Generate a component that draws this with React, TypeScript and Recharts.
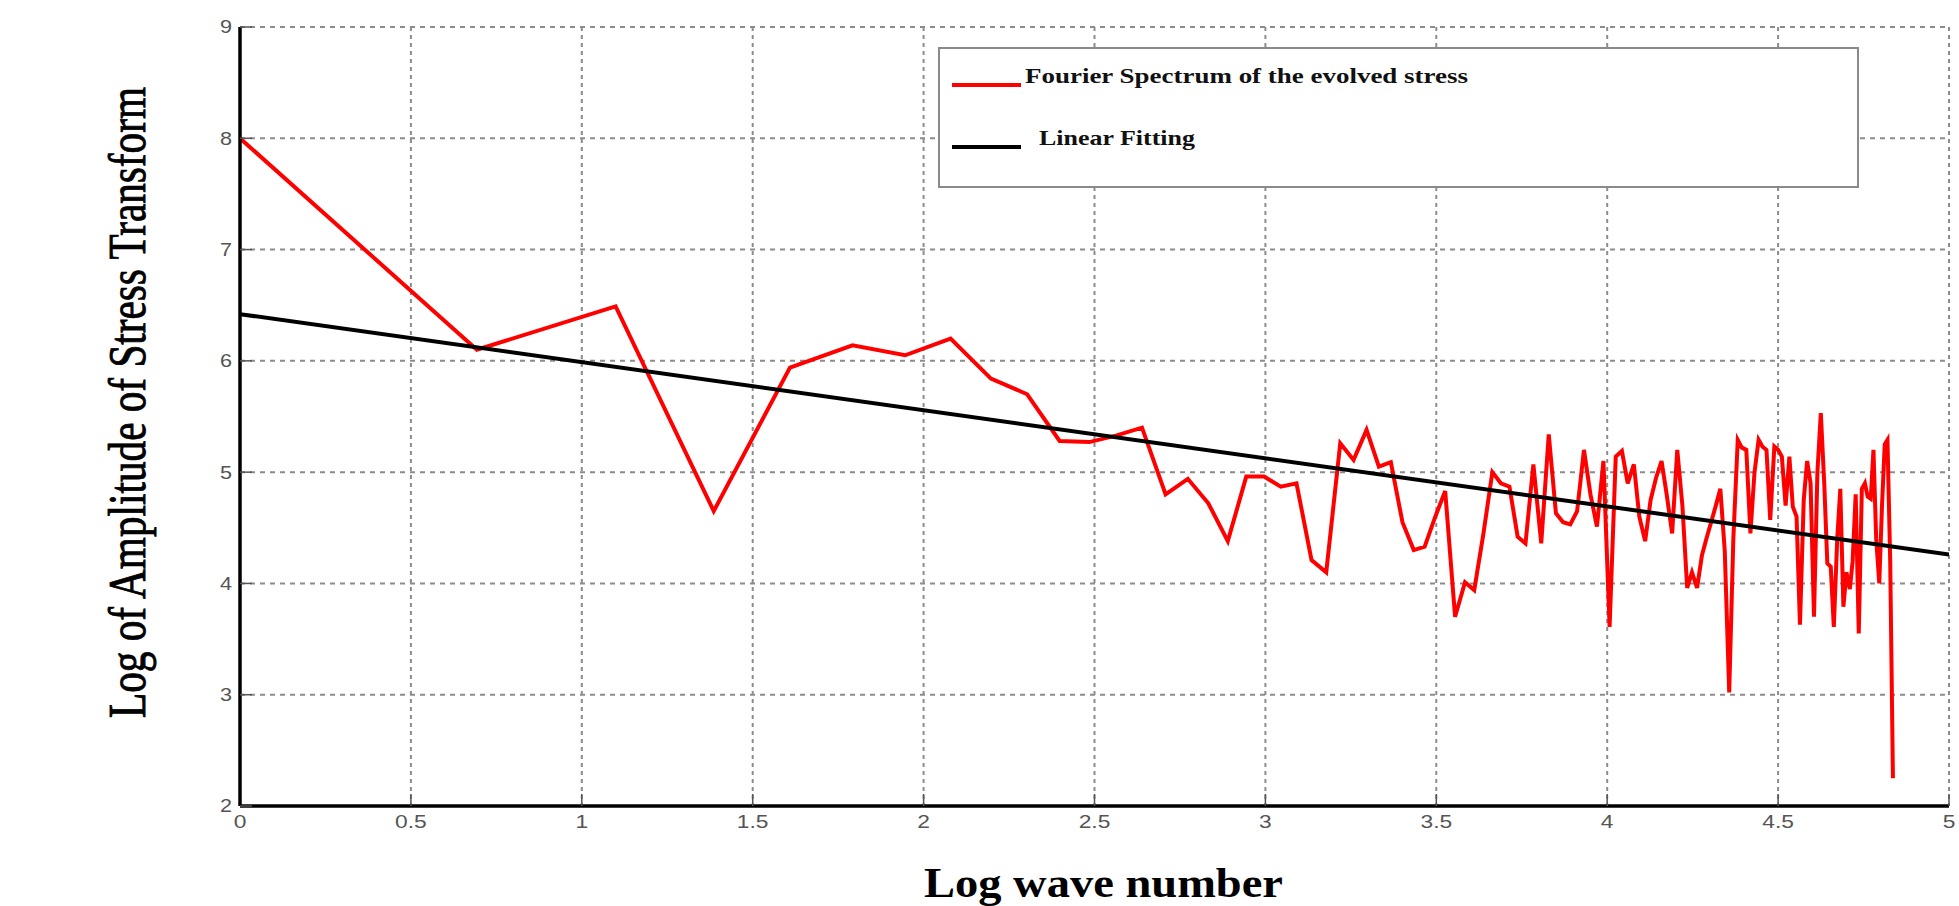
import React from "react";
import { LineChart, Line, XAxis, YAxis, CartesianGrid, Legend } from "recharts";

// log of wave number k = 1..126
const logWave = [
  0, 0.693, 1.099, 1.386, 1.609, 1.792, 1.946, 2.079, 2.197, 2.303,
  2.398, 2.485, 2.565, 2.639, 2.708, 2.773, 2.833, 2.89, 2.944, 2.996,
  3.045, 3.091, 3.135, 3.178, 3.219, 3.258, 3.296, 3.332, 3.367, 3.401,
  3.434, 3.466, 3.497, 3.526, 3.555, 3.584, 3.611, 3.638, 3.664, 3.689,
  3.714, 3.738, 3.761, 3.784, 3.807, 3.829, 3.85, 3.871, 3.892, 3.912,
  3.932, 3.951, 3.97, 3.989, 4.007, 4.025, 4.043, 4.06, 4.078, 4.094,
  4.111, 4.127, 4.143, 4.159, 4.174, 4.19, 4.205, 4.22, 4.234, 4.248,
  4.263, 4.277, 4.29, 4.304, 4.317, 4.331, 4.344, 4.357, 4.369, 4.382,
  4.394, 4.407, 4.419, 4.431, 4.443, 4.454, 4.466, 4.477, 4.489, 4.5,
  4.511, 4.522, 4.533, 4.543, 4.554, 4.564, 4.575, 4.585, 4.595, 4.605,
  4.615, 4.625, 4.635, 4.644, 4.654, 4.663, 4.673, 4.682, 4.691, 4.7,
  4.71, 4.718, 4.727, 4.736, 4.745, 4.754, 4.762, 4.771, 4.779, 4.787,
  4.796, 4.804, 4.812, 4.82, 4.828, 4.836,
];

// log of amplitude of the stress transform
const spectrum = [
  8.0, 6.1, 6.49, 4.65, 5.94, 6.14, 6.05, 6.2, 5.84, 5.7,
  5.28, 5.27, 5.33, 5.4, 4.8, 4.94, 4.72, 4.38, 4.96, 4.96,
  4.87, 4.9, 4.21, 4.1, 5.26, 5.11, 5.38, 5.05, 5.09, 4.55,
  4.3, 4.33, 4.6, 4.83, 3.7, 4.01, 3.94, 4.45, 5.0, 4.9,
  4.87, 4.42, 4.36, 5.07, 4.36, 5.34, 4.63, 4.55, 4.53, 4.65,
  5.2, 4.8, 4.51, 5.1, 3.61, 5.14, 5.19, 4.9, 5.07, 4.6,
  4.38, 4.75, 4.95, 5.1, 4.8, 4.45, 5.2, 4.7, 3.96, 4.1,
  3.96, 4.25, 4.4, 4.55, 4.69, 4.85, 4.29, 3.02, 4.4, 5.29,
  5.22, 5.2, 4.45, 5.0, 5.29, 5.23, 5.2, 4.57, 5.23, 5.2,
  5.14, 4.7, 5.14, 4.69, 4.6, 3.63, 4.75, 5.1, 4.9, 3.7,
  5.0, 5.53, 4.9, 4.18, 4.15, 3.61, 4.4, 4.85, 3.79, 4.1,
  3.95, 4.2, 4.8, 3.55, 4.85, 4.9, 4.78, 4.76, 5.2, 4.4,
  4.0, 4.7, 5.25, 5.29, 4.2, 2.25,
];

const fitX = [0, 5];
const fitY = [6.42, 4.26];

const xTicks = [0, 0.5, 1, 1.5, 2, 2.5, 3, 3.5, 4, 4.5, 5];
const yTicks = [2, 3, 4, 5, 6, 7, 8, 9];

const seriesNames = ["Fourier Spectrum of the evolved stress", "Linear Fitting"];
const xTitle = "Log wave number";
const yTitle = "Log of Amplitude of Stress Transform";

const spectrumData = logWave.map((x, i) => ({ x, y: spectrum[i] }));
const fitData = fitX.map((x, i) => ({ x, y: fitY[i] }));

const SERIF = "'Liberation Serif', 'Times New Roman', serif";
const SANS = "'Liberation Sans', Arial, sans-serif";

const XTick = (props: any) => {
  const { x, y, payload } = props;
  return (
    <g transform={`translate(${x},${y})`}>
      <text transform="scale(1.2,1)" textAnchor="middle" dy="0.71em" fontFamily={SANS} fontSize={19} fill="#555">
        {payload.value}
      </text>
    </g>
  );
};

const YTick = (props: any) => {
  const { x, y, payload } = props;
  return (
    <g transform={`translate(${x},${y})`}>
      <text transform="scale(1.2,1)" textAnchor="end" dy="0.355em" fontFamily={SANS} fontSize={18} fill="#555">
        {payload.value}
      </text>
    </g>
  );
};

const XLabel = (props: any) => {
  const vb = props.viewBox;
  return (
    <text
      x={vb.x + vb.width / 2 + 9}
      y={vb.y + 91}
      textAnchor="middle"
      fontFamily={SERIF}
      fontWeight="bold"
      fontSize={42}
      fill="#000"
      textLength={359}
      lengthAdjust="spacingAndGlyphs"
    >
      {xTitle}
    </text>
  );
};

const YLabel = (props: any) => {
  const vb = props.viewBox;
  const cy = vb.y + vb.height / 2 - 14;
  return (
    <text
      transform={`translate(${vb.x + 145},${cy}) rotate(-90) scale(1,1.3)`}
      textAnchor="middle"
      fontFamily={SERIF}
      fontSize={41}
      fill="#000"
      stroke="#000"
      strokeWidth={0.7}
      textLength={631}
      lengthAdjust="spacingAndGlyphs"
    >
      {yTitle}
    </text>
  );
};

// legend drawn as a framed box inside the plot, like the MATLAB original
const LegendBox = (props: any) => {
  const items = props.payload || [];
  const rowY = [36, 98];
  const textX = [85, 99];
  const textLen = [443, 156];
  return (
    <div style={{ width: 921, height: 141, boxSizing: "border-box", border: "2px solid #8a8a8a", background: "#fff" }}>
      <svg width={917} height={137} style={{ display: "block" }}>
        {items.map((it: any, i: number) => (
          <g key={i}>
            <line x1={12} x2={81} y1={rowY[i]} y2={rowY[i]} stroke={it.color} strokeWidth={4} />
            <text
              x={textX[i]}
              y={rowY[i] - 2}
              fontFamily={SERIF}
              fontWeight="bold"
              fontSize={22}
              fill="#111"
              textLength={textLen[i]}
              lengthAdjust="spacingAndGlyphs"
            >
              {it.value}
            </text>
          </g>
        ))}
      </svg>
    </div>
  );
};

export default function App() {
  const axisLine = { stroke: "#000", strokeWidth: 3.5 };
  const tickLine = { stroke: "#555", strokeWidth: 1.5 };
  return (
    <div style={{ position: "absolute", left: 0, top: 0, width: 1959, height: 906, background: "#fff" }}>
      <LineChart width={1959} height={906} margin={{ top: 27, right: 10, bottom: 0, left: 0 }}>
        <CartesianGrid vertical={false} strokeDasharray="5 5" stroke="#8c8c8c" strokeWidth={2} />
        <CartesianGrid horizontal={false} strokeDasharray="4 4" stroke="#8c8c8c" strokeWidth={2} />
        <XAxis
          type="number"
          dataKey="x"
          domain={[0, 5]}
          ticks={xTicks}
          allowDataOverflow
          height={100}
          axisLine={axisLine}
          tickLine={tickLine}
          tickSize={-12}
          tickMargin={21}
          tick={<XTick />}
          label={<XLabel />}
        />
        <XAxis
          xAxisId="top"
          orientation="top"
          type="number"
          dataKey="x"
          domain={[0, 5]}
          ticks={xTicks}
          allowDataOverflow
          height={0}
          axisLine={axisLine}
          tickLine={tickLine}
          tickSize={-12}
          tick={false}
        />
        <YAxis
          type="number"
          domain={[2, 9]}
          ticks={yTicks}
          allowDataOverflow
          width={240}
          axisLine={axisLine}
          tickLine={tickLine}
          tickSize={-12}
          tickMargin={20}
          tick={<YTick />}
          label={<YLabel />}
        />
        <YAxis
          yAxisId="right"
          orientation="right"
          type="number"
          domain={[2, 9]}
          ticks={yTicks}
          allowDataOverflow
          width={0}
          axisLine={axisLine}
          tickLine={tickLine}
          tickSize={-12}
          tick={false}
        />
        <Legend
          layout="horizontal"
          verticalAlign="middle"
          align="center"
          wrapperStyle={{ left: 938, top: 47, width: 921, height: 141 }}
          content={<LegendBox />}
        />
        <Line
          data={spectrumData}
          dataKey="y"
          name={seriesNames[0]}
          type="linear"
          stroke="#ff0000"
          strokeWidth={4}
          dot={false}
          activeDot={false}
          isAnimationActive={false}
        />
        <Line
          data={fitData}
          dataKey="y"
          name={seriesNames[1]}
          type="linear"
          stroke="#000"
          strokeWidth={4}
          dot={false}
          activeDot={false}
          isAnimationActive={false}
        />
      </LineChart>
    </div>
  );
}
